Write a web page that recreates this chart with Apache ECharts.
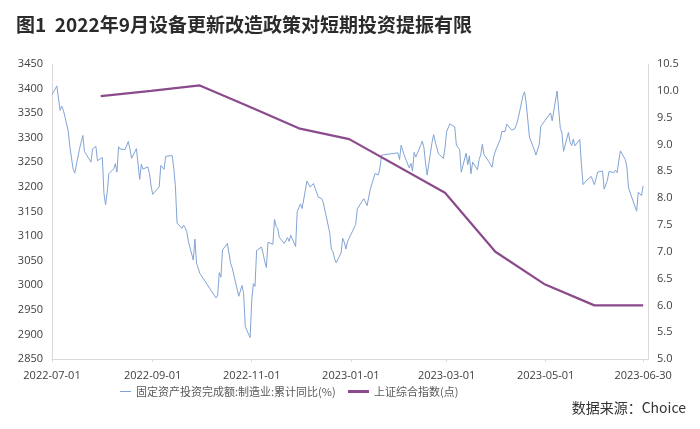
<!DOCTYPE html>
<html lang="zh-CN">
<head>
<meta charset="utf-8" />
<title>2022年9月设备更新改造政策对短期投资提振有限</title>
<script src="https://cdn.jsdelivr.net/npm/echarts@6.0.0/dist/echarts.min.js"></script>
<style>
	html, body { margin: 0; padding: 0; background: #fff; }
	#main { width: 700px; height: 429px; }
</style>
</head>
<body>
<div id="main"></div>
<script>
// 蓝线：日度（左轴）
const indexDates = [
	'2022-07-01','2022-07-04','2022-07-05','2022-07-06','2022-07-07','2022-07-08','2022-07-11','2022-07-12','2022-07-13','2022-07-14','2022-07-15',
	'2022-07-18','2022-07-19','2022-07-20','2022-07-21','2022-07-22','2022-07-25','2022-07-26','2022-07-27','2022-07-28','2022-07-29',
	'2022-08-01','2022-08-02','2022-08-03','2022-08-04','2022-08-05','2022-08-08','2022-08-09','2022-08-10','2022-08-11','2022-08-12',
	'2022-08-15','2022-08-16','2022-08-17','2022-08-18','2022-08-19','2022-08-22','2022-08-23','2022-08-24','2022-08-25','2022-08-26',
	'2022-08-29','2022-08-30','2022-08-31',
	'2022-09-01','2022-09-02','2022-09-05','2022-09-06','2022-09-07','2022-09-08','2022-09-09','2022-09-13','2022-09-14','2022-09-15',
	'2022-09-16','2022-09-19','2022-09-20','2022-09-21','2022-09-22','2022-09-23','2022-09-26','2022-09-27','2022-09-28','2022-09-29','2022-09-30',
	'2022-10-10','2022-10-11','2022-10-12','2022-10-13','2022-10-14','2022-10-17','2022-10-18','2022-10-19','2022-10-20','2022-10-21',
	'2022-10-24','2022-10-25','2022-10-26','2022-10-27','2022-10-28','2022-10-31',
	'2022-11-01','2022-11-02','2022-11-03','2022-11-04','2022-11-07','2022-11-08','2022-11-09','2022-11-10','2022-11-11',
	'2022-11-14','2022-11-15','2022-11-16','2022-11-17','2022-11-18','2022-11-21','2022-11-22','2022-11-23','2022-11-24','2022-11-25',
	'2022-11-28','2022-11-29','2022-11-30',
	'2022-12-01','2022-12-02','2022-12-05','2022-12-06','2022-12-07','2022-12-08','2022-12-09','2022-12-12','2022-12-13','2022-12-14',
	'2022-12-15','2022-12-16','2022-12-19','2022-12-20','2022-12-21','2022-12-22','2022-12-23','2022-12-26','2022-12-27','2022-12-28',
	'2022-12-29','2022-12-30',
	'2023-01-03','2023-01-04','2023-01-05','2023-01-06','2023-01-09','2023-01-10','2023-01-11','2023-01-12','2023-01-13',
	'2023-01-16','2023-01-17','2023-01-18','2023-01-19','2023-01-20','2023-01-30','2023-01-31',
	'2023-02-01','2023-02-02','2023-02-03','2023-02-06','2023-02-07','2023-02-08','2023-02-09','2023-02-10','2023-02-13','2023-02-14',
	'2023-02-15','2023-02-16','2023-02-17','2023-02-20','2023-02-21','2023-02-22','2023-02-23','2023-02-24','2023-02-27','2023-02-28',
	'2023-03-01','2023-03-02','2023-03-03','2023-03-06','2023-03-07','2023-03-08','2023-03-09','2023-03-10','2023-03-13','2023-03-14',
	'2023-03-15','2023-03-16','2023-03-17','2023-03-20','2023-03-21','2023-03-22','2023-03-23','2023-03-24','2023-03-27','2023-03-28',
	'2023-03-29','2023-03-30','2023-03-31',
	'2023-04-03','2023-04-04','2023-04-06','2023-04-07','2023-04-10','2023-04-11','2023-04-12','2023-04-13','2023-04-14',
	'2023-04-17','2023-04-18','2023-04-19','2023-04-20','2023-04-21','2023-04-24','2023-04-25','2023-04-26','2023-04-27','2023-04-28',
	'2023-05-04','2023-05-05','2023-05-08','2023-05-09','2023-05-10','2023-05-11','2023-05-12','2023-05-15','2023-05-16','2023-05-17',
	'2023-05-18','2023-05-19','2023-05-22','2023-05-23','2023-05-24','2023-05-25','2023-05-26','2023-05-29','2023-05-30','2023-05-31',
	'2023-06-01','2023-06-02','2023-06-05','2023-06-06','2023-06-07','2023-06-08','2023-06-09','2023-06-12','2023-06-13','2023-06-14',
	'2023-06-15','2023-06-16','2023-06-19','2023-06-20','2023-06-21','2023-06-26','2023-06-27','2023-06-28','2023-06-29','2023-06-30'
];
const indexValues = [
	3387.6,3405.4,3404.0,3355.4,3364.4,3356.1,3313.6,3281.5,3284.3,3236.2,3228.1,
	3278.1,3279.4,3304.7,3272.0,3270.0,3250.4,3277.4,3275.8,3282.6,3253.2,
	3260.0,3186.3,3163.7,3189.0,3227.0,3236.9,3247.4,3230.0,3281.7,3276.9,
	3276.1,3277.9,3292.5,3277.5,3258.1,3277.8,3276.2,3215.2,3246.3,3236.2,
	3240.7,3227.2,3202.1,
	3185.0,3186.5,3199.9,3243.5,3246.3,3235.6,3262.1,3263.8,3237.5,3199.9,
	3126.4,3115.6,3122.4,3117.2,3108.9,3088.4,3051.2,3093.9,3045.1,3041.2,3024.4,
	2974.2,2979.8,3025.5,3016.4,3072.0,3084.9,3081.0,3044.4,3035.1,3038.9,
	2977.6,2976.3,2999.5,2982.9,2915.9,2893.5,
	2969.2,3003.4,2997.8,3070.8,3077.8,3064.5,3048.2,3036.1,3087.3,
	3083.4,3134.1,3120.0,3115.4,3097.2,3085.0,3088.9,3096.9,3089.3,3101.7,
	3078.6,3149.8,3151.3,
	3165.5,3156.1,3211.8,3212.5,3199.6,3197.4,3207.0,3179.0,3176.3,3176.5,
	3168.7,3167.9,3107.1,3073.8,3068.4,3054.4,3045.9,3065.6,3095.6,3087.4,
	3073.7,3089.3,
	3116.5,3123.5,3155.2,3157.6,3176.1,3169.5,3161.8,3163.5,3195.3,
	3227.6,3224.2,3224.4,3240.3,3264.8,3269.3,3255.7,
	3284.9,3285.7,3263.4,3238.7,3248.1,3232.1,3270.4,3260.7,3284.2,3293.3,
	3280.5,3249.0,3224.0,3290.3,3306.5,3291.2,3287.5,3267.2,3258.0,3279.6,
	3312.4,3310.7,3328.4,3322.0,3285.1,3283.3,3276.1,3230.1,3268.7,3245.3,
	3263.3,3226.9,3250.6,3234.9,3255.7,3265.7,3286.7,3265.7,3251.4,3245.4,
	3240.1,3261.3,3272.9,
	3296.4,3312.6,3312.6,3327.7,3315.4,3313.6,3318.4,3327.0,3338.2,
	3385.6,3393.3,3370.1,3367.0,3301.3,3275.4,3264.9,3264.1,3285.9,3323.3,
	3350.5,3334.5,3395.0,3357.7,3319.2,3309.6,3272.4,3310.7,3291.0,3284.2,
	3297.3,3283.5,3296.5,3246.2,3204.8,3201.3,3212.5,3221.5,3224.2,3204.6,
	3204.6,3230.1,3232.4,3195.3,3197.9,3213.6,3231.4,3228.8,3233.7,3229.0,
	3253.0,3273.3,3255.8,3240.4,3197.9,3150.6,3189.4,3189.4,3182.4,3202.1
];

// 紫线：月度（右轴）
const investDates = [
	'2022-07-31','2022-08-31','2022-09-30','2022-10-31','2022-11-30','2022-12-31',
	'2023-02-28','2023-03-31','2023-04-30','2023-05-31','2023-06-30'
];
const investValues = [9.9, 10.0, 10.1, 9.7, 9.3, 9.1, 8.1, 7.0, 6.4, 6.0, 6.0];

const xLabelDates = ['2022-07-01','2022-09-01','2022-11-01','2023-01-01','2023-03-01','2023-05-01','2023-06-30'];
const seriesNames = ['固定资产投资完成额:制造业:累计同比(%)', '上证综合指数(点)'];

const cjkFont = '"Noto Sans CJK SC", "Noto Sans", sans-serif';
const numFont = '"Open Sans", "Noto Sans", sans-serif';

// 日期 -> 天数（以 2022-07-01 为 0）
const DAY = 86400000;
const base = Date.UTC(2022, 6, 1);
function toDay(s) {
	const p = s.split('-');
	return Math.round((Date.UTC(+p[0], +p[1] - 1, +p[2]) - base) / DAY);
}
function fmtDay(v) {
	const d = new Date(base + Math.round(v) * DAY);
	const mm = ('0' + (d.getUTCMonth() + 1)).slice(-2);
	const dd = ('0' + d.getUTCDate()).slice(-2);
	return d.getUTCFullYear() + '-' + mm + '-' + dd;
}

const chart = echarts.init(document.getElementById('main'), null, { renderer: 'canvas' });
const xTicks = xLabelDates.map(toDay);
const blue = '#82a4d4';
const purple = '#8b4a8c';

const option = {
	animation: false,
	backgroundColor: '#fff',
	title: {
		text: '图1  2022年9月设备更新改造政策对短期投资提振有限',
		left: 11,
		top: 10,
		textStyle: { fontFamily: cjkFont, fontSize: 19, fontWeight: 'bold', color: '#2b2b2b' }
	},
	graphic: [{
		type: 'text',
		right: 14,
		top: 401,
		style: { text: '数据来源：Choice', font: '14px ' + cjkFont, fill: '#333' }
	}],
	legend: [{
		data: [seriesNames[0]],
		left: 120,
		top: 386,
		padding: 0,
		icon: 'rect',
		itemWidth: 11,
		itemHeight: 1,
		textStyle: { fontFamily: cjkFont, fontSize: 11, color: '#595959' }
	}, {
		data: [seriesNames[1]],
		left: 348,
		top: 386,
		padding: 0,
		icon: 'rect',
		itemWidth: 21,
		itemHeight: 3,
		textStyle: { fontFamily: cjkFont, fontSize: 11, color: '#595959' }
	}],
	grid: { left: 52, right: 52, top: 64, bottom: 70, containLabel: false, outerBoundsMode: 'none' },
	xAxis: {
		type: 'value',
		min: 0,
		max: toDay('2023-07-03'),
		axisLine: { show: true, onZero: false, lineStyle: { color: '#d9d9d9', width: 1 } },
		axisTick: { show: true, length: 3, lineStyle: { color: '#d9d9d9' }, customValues: xTicks },
		axisLabel: {
			customValues: xTicks,
			formatter: fmtDay,
			hideOverlap: false,
			color: '#404040',
			fontFamily: numFont,
			fontSize: 11,
			margin: 11
		},
		splitLine: { show: false }
	},
	yAxis: [{
		type: 'value',
		min: 2850,
		max: 3450,
		interval: 50,
		axisLine: { show: true, lineStyle: { color: '#d9d9d9' } },
		axisTick: { show: false },
		axisLabel: {
			color: '#404040', fontFamily: numFont, fontSize: 11, margin: 9,
			formatter: function (v) { return String(v); }
		},
		splitLine: { show: false }
	}, {
		type: 'value',
		position: 'right',
		min: 5,
		max: 10.5,
		interval: 0.5,
		axisLine: { show: true, lineStyle: { color: '#d9d9d9' } },
		axisTick: { show: false },
		axisLabel: {
			color: '#404040', fontFamily: numFont, fontSize: 11, margin: 9,
			formatter: function (v) { return v.toFixed(1); }
		},
		splitLine: { show: false }
	}],
	series: [{
		name: seriesNames[0],
		type: 'line',
		yAxisIndex: 0,
		symbol: 'none',
		showSymbol: false,
		lineStyle: { width: 1, color: blue },
		itemStyle: { color: blue },
		data: indexDates.map(function (d, i) { return [toDay(d), indexValues[i]]; })
	}, {
		name: seriesNames[1],
		type: 'line',
		yAxisIndex: 1,
		symbol: 'none',
		showSymbol: false,
		lineStyle: { width: 2.2, color: purple },
		itemStyle: { color: purple },
		data: investDates.map(function (d, i) { return [toDay(d), investValues[i]]; })
	}]
};
chart.setOption(option);
</script>
</body>
</html>
